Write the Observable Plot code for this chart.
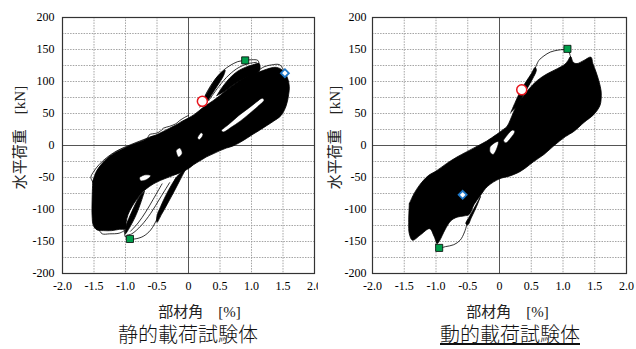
<!DOCTYPE html>
<html><head><meta charset="utf-8">
<script src="https://cdn.jsdelivr.net/npm/d3@7"></script>
<script src="https://cdn.jsdelivr.net/npm/@observablehq/plot@0.6"></script>
<style>
body{margin:0;background:#fff;}
#wrap{position:relative;width:636px;height:349px;overflow:hidden;background:#fff;}
#p1{position:absolute;left:0;top:0}
#p2{position:absolute;left:318px;top:0}
.title{position:absolute;top:324px;font-family:'Noto Sans CJK JP',sans-serif;font-weight:300;font-size:20px;line-height:20px;white-space:nowrap;transform:translateX(-50%);color:#111;}
</style></head><body>
<div id="wrap"><div id="p1"></div><div id="p2"></div>
<div class="title" style="left:188px">静的載荷試験体</div>
<div class="title" style="left:510px;text-decoration:underline;text-decoration-thickness:1.5px;text-underline-offset:1px">動的載荷試験体</div>
</div>
<script>
// ---- axes / ticks ----
const xTicks = [-2, -1.5, -1, -0.5, 0, 0.5, 1, 1.5, 2];
const yTicks = [-200, -150, -100, -50, 0, 50, 100, 150, 200];
const xGrid = [-1.5, -1, -0.5, 0.5, 1, 1.5];
const yGrid = [-175, -150, -125, -100, -75, -50, -25, 25, 50, 75, 100, 125, 150, 175];
const yLabel = "水平荷重　[kN]";
const xLabel = "部材角　[%]";

// ---- static specimen (drift %, kN) ----
const staticMain = [[-1.52,-56],[-1.46,-40],[-1.38,-29],[-1.27,-18],[-1.15,-10],[-1.0,-3],[-0.85,3],[-0.72,8],[-0.62,13],[-0.5,17],[-0.42,21],[-0.3,27],[-0.2,32],[-0.1,38],[0.0,43],[0.1,49],[0.24,60],[0.39,70],[0.5,78],[0.6,86],[0.72,95],[0.82,102],[0.93,108],[1.03,112],[1.18,117],[1.3,121],[1.4,122],[1.5,117],[1.57,106],[1.6,92],[1.59,80],[1.55,62],[1.47,47],[1.35,38],[1.24,31],[1.13,24],[1.03,18],[0.92,11],[0.82,5],[0.7,-1],[0.6,-4],[0.5,-8],[0.39,-13],[0.28,-18],[0.18,-24],[0.08,-30],[0,-36],[-0.12,-42],[-0.25,-47],[-0.38,-52],[-0.5,-57],[-0.62,-64],[-0.72,-72],[-0.82,-84],[-0.9,-96],[-0.96,-108],[-0.99,-120],[-1.0,-130],[-1.1,-131],[-1.22,-133],[-1.35,-133],[-1.45,-132],[-1.51,-125],[-1.53,-110],[-1.53,-85],[-1.52,-56]];
const staticPetalUp1 = [[0.2,62],[0.26,76],[0.34,90],[0.43,104],[0.52,114],[0.58,118],[0.56,110],[0.49,98],[0.41,86],[0.33,74],[0.26,64],[0.2,62]];
const staticPetalUp2 = [[0.45,78],[0.55,93],[0.66,106],[0.78,116],[0.9,122],[1.02,126],[1.12,128],[1.13,118],[1.06,112],[0.95,108],[0.82,102],[0.7,94],[0.58,85],[0.45,78]];
const staticPetalLo1 = [[-0.05,-38],[-0.14,-55],[-0.24,-74],[-0.34,-92],[-0.43,-108],[-0.5,-120],[-0.5,-110],[-0.44,-95],[-0.36,-78],[-0.26,-60],[-0.15,-45],[-0.05,-38]];
const staticPetalLo2 = [[-0.7,-72],[-0.76,-90],[-0.83,-108],[-0.9,-122],[-0.97,-134],[-1.0,-138],[-0.99,-125],[-0.93,-110],[-0.86,-95],[-0.78,-80],[-0.7,-72]];
const staticHole1 = [[0.52,24],[0.65,34],[0.8,47],[0.95,58],[1.08,68],[1.17,74],[1.2,71],[1.1,61],[0.97,50],[0.82,38],[0.67,28],[0.55,21],[0.52,24]];
const staticHole2 = [[-0.78,-50],[-0.7,-46],[-0.6,-47],[-0.66,-53],[-0.76,-55],[-0.78,-50]];
const staticHole3 = [[-0.2,-8],[-0.14,-4],[-0.1,-12],[-0.16,-18],[-0.2,-8]];
const staticHole4 = [[0.14,12],[0.2,20],[0.23,17],[0.17,9],[0.14,12]];
const staticEnvUp = [[-1.5,-60],[-1.55,-50],[-1.5,-40],[-1.42,-30],[-1.3,-19],[-1.15,-9],[-1.0,-2],[-0.85,4],[-0.72,9],[-0.65,12],[-0.62,17],[-0.52,19],[-0.45,22],[-0.4,27],[-0.3,30],[-0.2,34],[-0.14,39],[-0.06,44],[0.0,47]];
const staticEnvPos = [[0.18,60],[0.24,73],[0.33,90],[0.45,107],[0.56,118],[0.66,125],[0.78,131],[0.9,133],[1.0,134],[1.1,133],[1.12,128],[1.12,118]];
const staticEnvPos2 = [[1.12,118],[1.2,123],[1.32,126],[1.45,126],[1.53,113]];
const staticEnvNeg = [[-0.2,-50],[-0.3,-72],[-0.4,-95],[-0.5,-115],[-0.6,-132],[-0.72,-142],[-0.85,-146],[-0.93,-146],[-1.0,-143],[-1.02,-130]];
const staticEnvNeg2 = [[-1.0,-132],[-1.1,-137],[-1.25,-138],[-1.37,-138],[-1.42,-132]];
const staticInnerNeg1 = [[-0.3,-58],[-0.45,-82],[-0.6,-106],[-0.75,-125],[-0.9,-138],[-0.97,-140]];
const staticInnerNeg2 = [[-0.42,-60],[-0.56,-84],[-0.68,-104],[-0.8,-121],[-0.92,-134]];
const staticInnerPos1 = [[0.32,70],[0.48,92],[0.64,110],[0.8,122],[0.95,128],[1.08,130]];
const staticMaxPts = [[0.9,133],[-0.93,-146]];
const staticYieldPt = [[0.22,69]];
const staticUltPt = [[1.53,113]];

// ---- dynamic specimen (drift %, kN) ----
const dynMain = [[-1.42,-91],[-1.35,-76],[-1.26,-62],[-1.12,-47],[-1.0,-40],[-0.83,-28],[-0.67,-18],[-0.52,-10],[-0.35,-1],[-0.2,7],[-0.05,17],[0.06,25],[0.12,30],[0.17,40],[0.22,52],[0.28,64],[0.36,75],[0.46,88],[0.6,102],[0.75,112],[0.91,120],[1.03,127],[1.08,133],[1.12,139],[1.16,130],[1.22,128],[1.33,133],[1.44,138],[1.47,128],[1.52,115],[1.57,99],[1.6,85],[1.6,72],[1.58,62],[1.49,49],[1.33,36],[1.17,22],[1.04,14],[0.86,0],[0.7,-14],[0.54,-25],[0.41,-35],[0.3,-42],[0.15,-48],[0,-52],[-0.19,-64],[-0.3,-78],[-0.4,-92],[-0.48,-108],[-0.56,-110],[-0.67,-112],[-0.77,-118],[-0.86,-132],[-0.94,-148],[-0.98,-153],[-1.03,-142],[-1.1,-130],[-1.25,-140],[-1.37,-148],[-1.42,-138],[-1.43,-120],[-1.42,-91]];
const dynPetalUp = [[0.18,52],[0.25,68],[0.33,85],[0.42,100],[0.5,112],[0.56,122],[0.58,118],[0.52,104],[0.44,90],[0.36,76],[0.28,62],[0.18,52]];
const dynPetalLo = [[-0.3,-80],[-0.4,-98],[-0.48,-112],[-0.53,-122],[-0.5,-124],[-0.44,-112],[-0.36,-95],[-0.3,-80]];
const dynHole1 = [[0.06,8],[0.12,16],[0.2,24],[0.24,22],[0.18,12],[0.1,4],[0.06,8]];
const dynHole2 = [[-0.15,-2],[-0.08,4],[-0.02,6],[-0.04,-4],[-0.1,-14],[-0.15,-10],[-0.15,-2]];
const dynEnvPos = [[0.56,120],[0.62,133],[0.7,140],[0.8,146],[0.92,149],[1.0,150],[1.07,151],[1.1,145],[1.12,138]];
const dynEnvNeg = [[-0.5,-118],[-0.55,-135],[-0.62,-148],[-0.72,-155],[-0.85,-158],[-0.95,-160],[-1.0,-155],[-0.98,-150]];
const dynMaxPts = [[1.07,151],[-0.95,-160]];
const dynYieldPt = [[0.35,87]];
const dynUltPt = [[-0.58,-77]];

const toRows = (groups) => groups.flatMap((g, i) => g.map(([x, y]) => ({x, y, id: i})));
const fmtX = d => d === 0 ? "0" : d.toFixed(1);
const fmtY = d => String(d);
const FONT = "'Liberation Serif','Times New Roman',Tinos,'DejaVu Serif','Noto Sans CJK JP',serif";

function panel(o) {
  const svg = Plot.plot({
    width: 318, height: 322,
    marginLeft: o.ml, marginRight: o.mr, marginTop: 17, marginBottom: 49,
    x: {domain: [-2, 2], label: null},
    y: {domain: [-200, 200], label: null},
    style: {fontSize: "12px", color: "#000", background: "#fff", overflow: "visible"},
    marks: [
      Plot.ruleX(xGrid, {stroke: "#9a9a9a", strokeWidth: 0.9, strokeDasharray: "1.5,1.2"}),
      Plot.ruleY(yGrid, {stroke: "#9a9a9a", strokeWidth: 0.9, strokeDasharray: "1.5,1.2"}),
      Plot.ruleX([0], {stroke: "#555", strokeWidth: 1}),
      Plot.ruleY([0], {stroke: "#555", strokeWidth: 1}),
      Plot.line(toRows(o.fills), {x: "x", y: "y", z: "id", fill: "#000", stroke: "#000", strokeWidth: 0.8, curve: "catmull-rom"}),
      Plot.line(toRows(o.holes), {x: "x", y: "y", z: "id", fill: "#fff", stroke: "#000", strokeWidth: 0.6, curve: "catmull-rom"}),
      Plot.line(toRows(o.lines), {x: "x", y: "y", z: "id", stroke: "#000", strokeWidth: 0.8, curve: "catmull-rom"}),
      Plot.frame({stroke: "#333", strokeWidth: 1.2}),
      Plot.axisX({ticks: xTicks, tickFormat: fmtX, tickSize: 0, tickPadding: 8, label: null, fontSize: 12}),
      Plot.axisY({ticks: yTicks, tickFormat: fmtY, tickSize: 0, tickPadding: o.yPad, label: null, fontSize: 12}),
      Plot.dot(o.maxPts, {x: d => d[0], y: d => d[1], symbol: "square", r: 4, fill: "#00a04c", stroke: "#000", strokeWidth: 0.8}),
      Plot.dot(o.yieldPt, {x: d => d[0], y: d => d[1], r: 5, fill: "#fff", stroke: "#e8141c", strokeWidth: 1.5}),
      Plot.dot(o.ultPt, {x: d => d[0], y: d => d[1], symbol: "diamond2", r: 3.6, fill: "#fff", stroke: "#1f78c8", strokeWidth: 1.8}),
      Plot.text([yLabel], {frameAnchor: "left", textAnchor: "middle", lineAnchor: "middle", rotate: -90, dx: o.yLabDx, dy: -8, fontSize: 15, fill: "#222"}),
      Plot.text([xLabel], {frameAnchor: "bottom", textAnchor: "middle", lineAnchor: "middle", dy: 39, dx: o.xLabDx, fontSize: 15, fill: "#222"})
    ]
  });
  svg.style.setProperty("font-family", FONT, "important");
  svg.querySelectorAll("text, g").forEach(t => {
    t.removeAttribute("font-family");
    t.style.setProperty("font-family", FONT, "important");
  });
  return svg;
}

document.getElementById("p1").append(panel({
  ml: 62, mr: 4, yPad: 8, yLabDx: -42, xLabDx: 11,
  fills: [staticMain, staticPetalUp1, staticPetalUp2, staticPetalLo1, staticPetalLo2],
  holes: [staticHole1, staticHole2, staticHole3, staticHole4],
  lines: [staticEnvUp, staticEnvPos, staticEnvPos2, staticEnvNeg, staticEnvNeg2, staticInnerNeg1, staticInnerNeg2, staticInnerPos1],
  maxPts: staticMaxPts, yieldPt: staticYieldPt, ultPt: staticUltPt
}));
document.getElementById("p2").append(panel({
  ml: 54, mr: 10, yPad: 6, yLabDx: -37, xLabDx: 8,
  fills: [dynMain, dynPetalUp, dynPetalLo],
  holes: [dynHole1, dynHole2],
  lines: [dynEnvPos, dynEnvNeg],
  maxPts: dynMaxPts, yieldPt: dynYieldPt, ultPt: dynUltPt
}));
</script>
</body></html>
